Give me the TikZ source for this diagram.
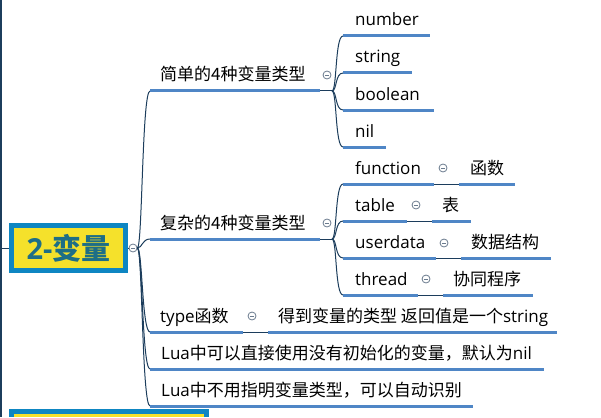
\documentclass[tikz,border=0pt]{standalone}
\usepackage{fontspec}
\setmainfont{Open Sans}
\newfontfamily\cjk{Noto Sans CJK SC}

\definecolor{trunk}{HTML}{1C3D5C}
\definecolor{uline}{HTML}{4F86C6}
\definecolor{knobgrey}{HTML}{6A7B8E}
\definecolor{rootblue}{HTML}{0E86C2}
\definecolor{rootyellow}{HTML}{F5E12B}
\definecolor{roottext}{HTML}{1E6E86}

\tikzset{
  topic/.style={anchor=base west, inner sep=0pt, font=\fontsize{17}{20}\selectfont},
  underline/.style={uline, line width=3pt},
  link/.style={trunk, line width=1pt},
  collapse/.style={circle, draw=knobgrey, fill=white, line width=0.8pt,
    minimum size=8pt, inner sep=0pt,
    path picture={\draw[knobgrey, line width=0.8pt]
      ([xshift=-2.2pt]path picture bounding box.center) --
      ([xshift=2.2pt]path picture bounding box.center);}},
}

\begin{document}
\begin{tikzpicture}[x=1pt,y=-1pt]
  \useasboundingbox (0,0) rectangle (601,417);

  % Left edge line
  \draw[trunk, line width=1.5pt] (0.75,0) -- (0.75,417);

  % Root
  \node[draw=rootblue, line width=5pt, fill=rootyellow, minimum width=114pt,
    minimum height=45pt, inner sep=0pt, text=roottext,
    font=\fontsize{29}{32}\selectfont\bfseries] (root) at (68.5,248) {2-{\cjk\bfseries 变量}};
  \node[collapse] (rootknob) at (133,248) {};
  \coordinate (edge) at (0,248);
  \draw[link] (edge) -- (root.west);
  \draw[link] (root.east) -- (rootknob.west);

  % Bottom root (cut off)
  \fill[rootblue] (9,409) rectangle (209,417);
  \fill[rootyellow] (14,414) rectangle (204,417);

  % Main branches: underline ends
  \coordinate (simple) at (150,91);   \coordinate (simpleE) at (320,91);
  \coordinate (complex) at (150,239); \coordinate (complexE) at (320,239);
  \coordinate (type) at (150,332);    \coordinate (typeE) at (243,332);
  \coordinate (typesub) at (268,332); \coordinate (typesubE) at (557,332);
  \coordinate (nilvar) at (150,369);  \coordinate (nilvarE) at (544,369);
  \coordinate (auto) at (150,406);    \coordinate (autoE) at (473,406);

  % Trunk curves
  \foreach \b in {simple,complex,type,nilvar,auto}
    \draw[link] (rootknob.east) .. controls +(5,0) and +(-8,0) .. (\b);

  % Main branch underlines
  \foreach \b in {simple,complex,type,typesub,nilvar,auto}
    \draw[underline] (\b) -- (\b E);

  % Main branch texts
  \node[topic] (simpleT) at (160,81) {\cjk 简单的4种变量类型};
  \node[topic] (complexT) at (160,229) {\cjk 复杂的4种变量类型};
  \node[topic] (typeT) at (160,322) {type{\cjk 函数}};
  \node[topic] (typesubT) at (278,322) {{\cjk 得到变量的类型 返回值是一个}string};
  \node[topic] (nilvarT) at (161,359) {Lua{\cjk 中可以直接使用没有初始化的变量，默认为}nil};
  \node[topic] (autoT) at (161,396) {Lua{\cjk 中不用指明变量类型，可以自动识别}};

  % Collapse knobs and junctions
  \node[collapse] (simpleK) at (327,75) {};
  \node[collapse] (complexK) at (327,223) {};
  \node[collapse] (typeK) at (252,316) {};
  \coordinate (simpleJ) at (332,91);
  \coordinate (complexJ) at (332,239);
  \draw[link] (simpleE) -- (simpleJ);
  \draw[link] (complexE) -- (complexJ);
  \draw[link] (typeE) -- (typesub);

  % Simple children
  \coordinate (number) at (343,36);   \coordinate (numberE) at (430,36);
  \coordinate (string) at (343,73);   \coordinate (stringE) at (412,73);
  \coordinate (boolean) at (343,110); \coordinate (booleanE) at (434,110);
  \coordinate (nil) at (343,147);     \coordinate (nilE) at (386,147);
  \foreach \c in {number,string,boolean,nil}{
    \draw[link] (simpleJ) .. controls +(5,0) and +(-8,0) .. (\c);
    \draw[underline] (\c) -- (\c E);
  }
  \node[topic] (numberT) at (355,26) {number};
  \node[topic] (stringT) at (355,63) {string};
  \node[topic] (booleanT) at (355,100) {boolean};
  \node[topic] (nilT) at (355,137) {nil};

  % Complex children
  \coordinate (function) at (343,184); \coordinate (functionE) at (434,184);
  \coordinate (table) at (343,221);    \coordinate (tableE) at (407,221);
  \coordinate (userdata) at (343,258); \coordinate (userdataE) at (436,258);
  \coordinate (thread) at (343,295);   \coordinate (threadE) at (418,295);
  \coordinate (functionS) at (459,184); \coordinate (functionSE) at (515,184);
  \coordinate (tableS) at (432,221);    \coordinate (tableSE) at (471,221);
  \coordinate (userdataS) at (461,258); \coordinate (userdataSE) at (551,258);
  \coordinate (threadS) at (443,295);   \coordinate (threadSE) at (533,295);
  \foreach \c in {function,table,userdata,thread}{
    \draw[link] (complexJ) .. controls +(5,0) and +(-8,0) .. (\c);
    \draw[link] (\c E) -- (\c S);
    \draw[underline] (\c) -- (\c E);
    \draw[underline] (\c S) -- (\c SE);
  }
  \node[topic] (functionT) at (355,174) {function};
  \node[topic] (tableT) at (355,211) {table};
  \node[topic] (userdataT) at (355,248) {userdata};
  \node[topic] (threadT) at (355,285) {thread};
  \node[collapse] (functionK) at (443,168) {};
  \node[collapse] (tableK) at (416,205) {};
  \node[collapse] (userdataK) at (444,243) {};
  \node[collapse] (threadK) at (426,279) {};
  \node[topic] (functionST) at (470,174) {\cjk 函数};
  \node[topic] (tableST) at (442,211) {\cjk 表};
  \node[topic] (userdataST) at (471,248) {\cjk 数据结构};
  \node[topic] (threadST) at (453,285) {\cjk 协同程序};
\end{tikzpicture}
\end{document}
